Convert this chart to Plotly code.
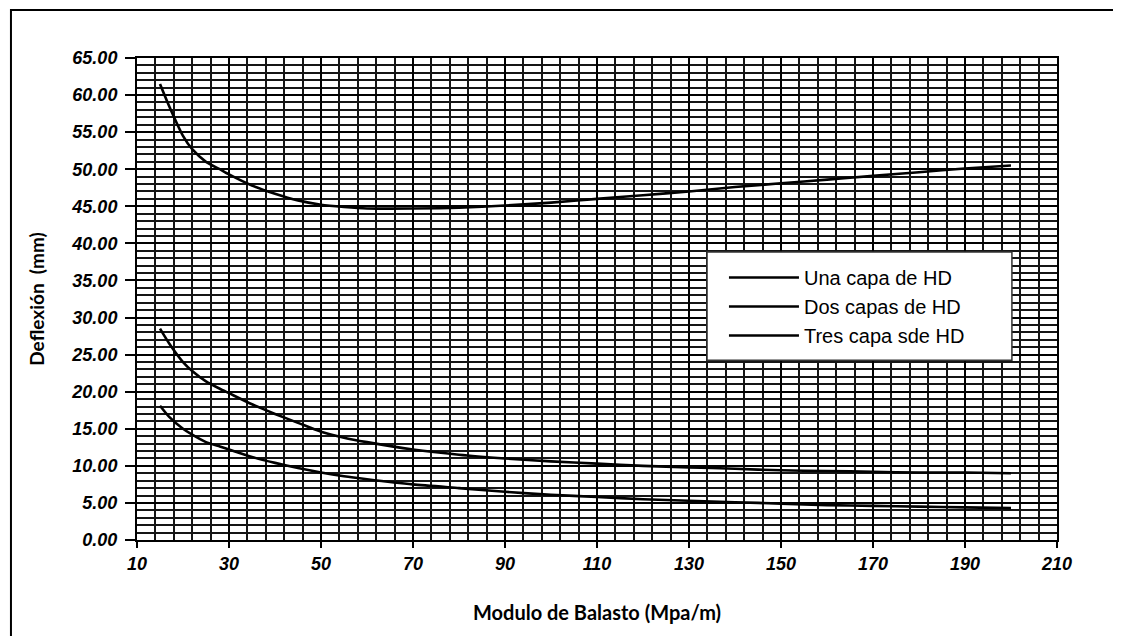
import plotly.graph_objects as go

# ---- data ----
modulo = [15, 17, 20, 22, 25, 28, 30, 35, 40, 45, 50, 55, 60, 70, 80, 90, 100,
          110, 120, 130, 140, 150, 160, 170, 180, 190, 200]

una_capa = [61.5, 58.5, 54.5, 52.7, 51.0, 50.0, 49.3, 47.8, 46.7, 45.8, 45.2, 44.9,
            44.7, 44.7, 44.8, 45.1, 45.5, 46.0, 46.5, 47.0, 47.6, 48.1, 48.6, 49.1,
            49.6, 50.1, 50.5]

dos_capas = [28.5, 26.5, 24.0, 22.8, 21.4, 20.4, 19.8, 18.3, 17.0, 15.8, 14.6, 13.8,
             13.2, 12.2, 11.5, 11.0, 10.6, 10.3, 10.0, 9.8, 9.6, 9.4, 9.3, 9.2,
             9.1, 9.1, 9.0]

tres_capas = [18.1, 16.6, 15.0, 14.2, 13.2, 12.6, 12.2, 11.2, 10.4, 9.7, 9.1, 8.6,
              8.2, 7.5, 7.0, 6.5, 6.1, 5.8, 5.5, 5.3, 5.1, 4.9, 4.7, 4.6,
              4.5, 4.4, 4.3]

series_names = ["Una capa de HD", "Dos capas de HD", "Tres capa sde HD"]
x_ticks = [10, 30, 50, 70, 90, 110, 130, 150, 170, 190, 210]
y_ticks = [0, 5, 10, 15, 20, 25, 30, 35, 40, 45, 50, 55, 60, 65]

x_title = "Modulo de Balasto (Mpa/m)"
y_title = "Deflexión  (mm)"

fig = go.Figure()
for name, vals in zip(series_names, [una_capa, dos_capas, tres_capas]):
    fig.add_trace(go.Scatter(
        x=modulo, y=vals, name=name, mode="lines",
        line=dict(color="black", width=2.6, shape="spline", smoothing=0.6),
    ))

tick_font = dict(family="Liberation Sans", size=18, color="black", weight="bold")
title_font = dict(family="Lato", size=20, color="black", weight="bold")

fig.update_xaxes(
    range=[10, 210], tickvals=x_ticks,
    ticktext=[f"<i>{v}</i>" for v in x_ticks],
    showgrid=True, gridcolor="black", gridwidth=2.2,
    minor=dict(dtick=4, tick0=10, showgrid=True, gridcolor="#151515", gridwidth=1.5),
    ticks="outside", ticklen=6, tickwidth=1.5, tickcolor="black",
    showline=True, linecolor="black", linewidth=2, mirror=True,
    tickfont=tick_font, zeroline=False,
    title=dict(text=x_title, standoff=33, font=title_font),
)
fig.update_yaxes(
    range=[0, 65], tickvals=y_ticks,
    ticktext=[f"<i>{v:.2f}</i>" for v in y_ticks],
    showgrid=True, gridcolor="black", gridwidth=2.2,
    minor=dict(dtick=1, showgrid=True, gridcolor="#151515", gridwidth=1.5),
    ticks="outside", ticklen=10, tickwidth=1.5, tickcolor="black",
    ticklabelstandoff=4,
    showline=True, linecolor="black", linewidth=2, mirror=True,
    tickfont=tick_font, zeroline=False,
    title=dict(text=y_title, standoff=22,
               font=dict(family="Lato", size=19, color="black", weight="bold")),
)

# legend box (white rectangle with border) and outer chart frame
fig.add_shape(type="rect", xref="paper", yref="paper",
              x0=0.6196, x1=0.951, y0=0.373, y1=0.5975,
              fillcolor="white", line=dict(color="#333", width=1.5), layer="above")
fig.add_shape(type="rect", xref="paper", yref="paper",
              x0=-0.137, x1=1.2, y0=-0.3, y1=1.0996,
              fillcolor="rgba(0,0,0,0)", line=dict(color="black", width=2), layer="above")

fig.update_layout(
    width=1113, height=628,
    margin=dict(l=129, r=64, t=50, b=96),
    paper_bgcolor="white", plot_bgcolor="white",
    showlegend=True,
    legend=dict(x=0.638, y=0.585, xanchor="left", yanchor="top",
                bgcolor="rgba(0,0,0,0)", borderwidth=0,
                font=dict(family="Liberation Sans", size=20, color="black"),
                itemwidth=70, tracegroupgap=0),
)

fig.write_html("out.html")
